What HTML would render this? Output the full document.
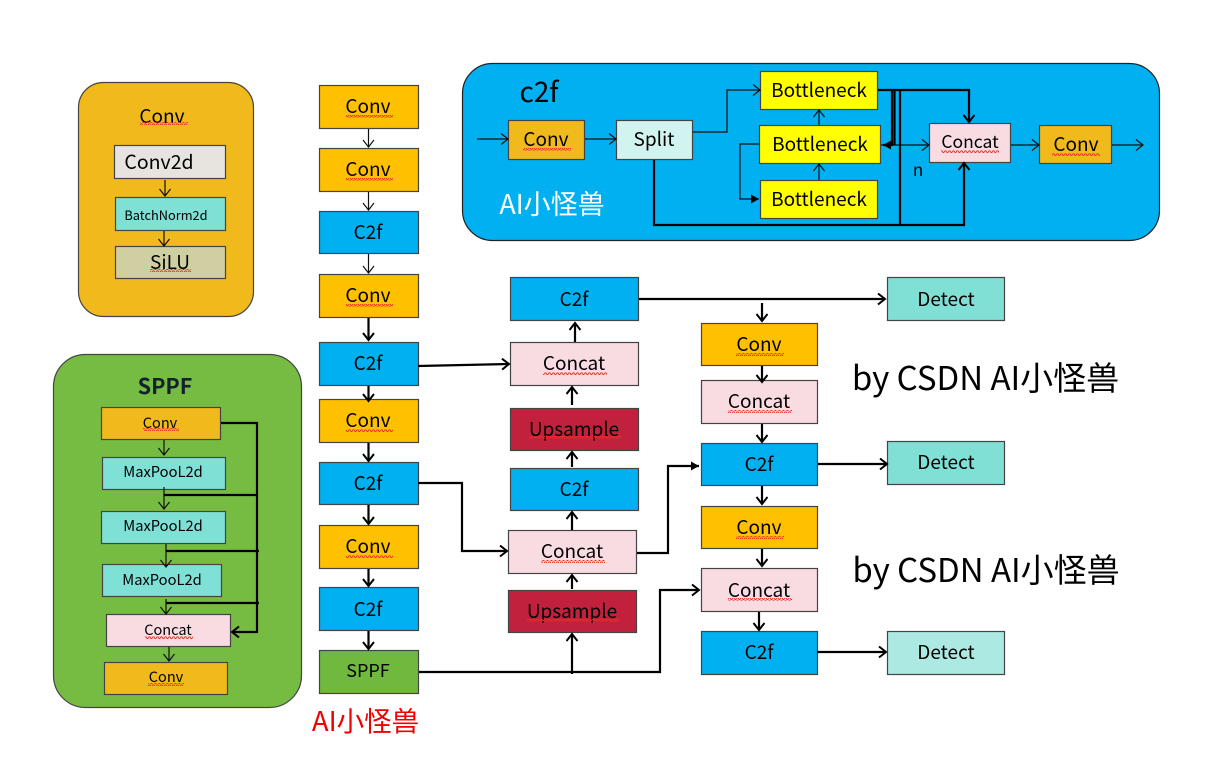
<!DOCTYPE html>
<html><head><meta charset="utf-8"><style>
html,body{margin:0;padding:0;background:#fff;width:1213px;height:766px;overflow:hidden}
svg{display:block}
text{font-family:"Noto Sans CJK SC","Liberation Sans",sans-serif;fill:#000;text-anchor:middle;transform:translateY(1px)}
.b{stroke:#444;stroke-width:1.2}
.t{fill:none;stroke:#111;stroke-width:1.2}
.k{fill:none;stroke:#000;stroke-width:2.2}
.w{fill:url(#z)}
</style></head><body>
<svg width="1213" height="766" viewBox="0 0 1213 766" xmlns="http://www.w3.org/2000/svg">
<defs>
<pattern id="z" width="4" height="3" patternUnits="userSpaceOnUse"><path d="M0 2.5L1 .8L2 .8L3 2.5L4 2.5" fill="none" stroke="#e8302a" stroke-width=".9"/></pattern>
<marker id="o" markerUnits="userSpaceOnUse" markerWidth="14" markerHeight="14" refX="10" refY="6" orient="auto"><path d="M3 .5L10 6L3 11.5" fill="none" stroke="#111" stroke-width="1.2"/></marker>
<marker id="O" markerUnits="userSpaceOnUse" markerWidth="14" markerHeight="14" refX="10" refY="6" orient="auto"><path d="M3 .5L10 6L3 11.5" fill="none" stroke="#000" stroke-width="2"/></marker>
<marker id="f" markerUnits="userSpaceOnUse" markerWidth="14" markerHeight="14" refX="9" refY="6" orient="auto"><path d="M1 1.5L9 6L1 10.5Z" fill="#000"/></marker>
</defs>

<!-- Conv panel -->
<rect class="b" x="78.500" y="82.500" width="175" height="234" rx="25" fill="#f0b91c"/>
<text x="162" y="122" font-size="19">Conv</text><rect class="w" x="140" y="122" width="48" height="3"/>
<rect class="b" x="114.500" y="145.500" width="111" height="33" fill="#e7e3de"/>
<text x="159" y="168" font-size="19.500">Conv2d</text>
<rect class="b" x="115.500" y="197.500" width="110" height="33" fill="#7fe0d6"/>
<text x="166" y="219" font-size="12.800">BatchNorm2d</text>
<rect class="b" x="115.500" y="246.500" width="110" height="32" fill="#d0cfa2"/>
<text x="170" y="268" font-size="19">SiLU</text><rect class="w" x="150" y="269" width="41" height="3"/>
<path class="t" d="M165 180V196" marker-end="url(#o)"/>
<path class="t" d="M164 231V246" marker-end="url(#o)"/>

<!-- SPPF panel -->
<rect class="b" x="53.500" y="354.500" width="248" height="353" rx="32" fill="#76bc43"/>
<text x="165" y="393" font-size="21.500" font-weight="700" style="fill:#14202e">SPPF</text>
<rect class="b" x="101.500" y="407.500" width="119" height="32" fill="#f0b91c"/>
<text x="160" y="427" font-size="14.500">Conv</text><rect class="w" x="143" y="428" width="36" height="3"/>
<rect class="b" x="102.500" y="457.500" width="123" height="32" fill="#7fe0d6"/>
<text x="163" y="476" font-size="14.700">MaxPooL2d</text>
<rect class="b" x="101.500" y="511.500" width="124" height="32" fill="#7fe0d6"/>
<text x="163" y="530" font-size="14.700">MaxPooL2d</text>
<rect class="b" x="102.500" y="564.500" width="119" height="32" fill="#7fe0d6"/>
<text x="162" y="584" font-size="14.700">MaxPooL2d</text>
<rect class="b" x="106.500" y="614.500" width="124" height="32" fill="#f8dce2"/>
<text x="168" y="634" font-size="14.500">Concat</text><rect class="w" x="145" y="636" width="48" height="3"/>
<rect class="b" x="104.500" y="662.500" width="123" height="32" fill="#f0b91c"/>
<text x="166" y="681" font-size="14.500">Conv</text><rect class="w" x="148" y="683" width="36" height="3"/>
<path class="t" d="M164 440V455" marker-end="url(#o)"/>
<path class="t" d="M164 487V509" marker-end="url(#o)"/>
<path class="t" d="M166 544V567" marker-end="url(#o)"/>
<path class="t" d="M166 599V614" marker-end="url(#o)"/>
<path class="t" d="M169 647V661" marker-end="url(#o)"/>
<path class="k" d="M221 423H257V632H232" marker-end="url(#O)"/>
<path class="k" d="M164 495H257M166 551H259M166 603H259"/>

<!-- centre column -->
<g class="b" fill="#ffc000">
<rect x="319.500" y="85.500" width="99" height="43"/>
<rect x="319.500" y="148.500" width="99" height="43"/>
<rect x="319.500" y="274.500" width="99" height="43"/>
<rect x="319.500" y="399.500" width="99" height="43"/>
<rect x="319.500" y="525.500" width="99" height="43"/>
</g>
<g class="b" fill="#00b0f0">
<rect x="319.500" y="211.500" width="99" height="42"/>
<rect x="319.500" y="342.500" width="99" height="43"/>
<rect x="319.500" y="462.500" width="99" height="42"/>
<rect x="319.500" y="587.500" width="99" height="43"/>
</g>
<rect class="b" x="319.500" y="650.500" width="99" height="43" fill="#70b83e"/>
<g font-size="19">
<text x="368" y="112">Conv</text><text x="368" y="175">Conv</text><text x="368" y="238">C2f</text><text x="368" y="301">Conv</text>
<text x="368" y="369">C2f</text><text x="368" y="426">Conv</text><text x="368" y="489">C2f</text><text x="368" y="552">Conv</text><text x="368" y="615">C2f</text>
</g>
<text x="368" y="676" font-size="18">SPPF</text>
<g class="w"><rect x="346" y="115" width="47" height="3"/><rect x="346" y="178" width="47" height="3"/><rect x="346" y="304" width="47" height="3"/><rect x="346" y="429" width="47" height="3"/><rect x="346" y="555" width="47" height="3"/></g>
<path class="t" d="M368.500 129V147" marker-end="url(#o)"/>
<path class="t" d="M368.500 192V210" marker-end="url(#o)"/>
<path class="t" d="M368.500 254V273" marker-end="url(#o)"/>
<path class="k" d="M368.500 318V340" marker-end="url(#O)"/>
<path class="k" d="M368.500 386V401" marker-end="url(#O)"/>
<path class="k" d="M368.500 443V461" marker-end="url(#O)"/>
<path class="k" d="M368.500 505V524" marker-end="url(#O)"/>
<path class="k" d="M368.500 569V586" marker-end="url(#O)"/>
<path class="k" d="M368.500 631V649" marker-end="url(#O)"/>
<text x="365.500" y="730" font-size="27.500" style="fill:#f00000">AI小怪兽</text>

<!-- middle column -->
<rect class="b" x="510.500" y="277.500" width="128" height="43" fill="#00b0f0"/>
<rect class="b" x="510.500" y="342.500" width="128" height="43" fill="#f8dce2"/>
<rect class="b" x="510.500" y="408.500" width="128" height="42" fill="#c1213c"/>
<rect class="b" x="510.500" y="468.500" width="128" height="42" fill="#00b0f0"/>
<rect class="b" x="508.500" y="530.500" width="128" height="43" fill="#f8dce2"/>
<rect class="b" x="508.500" y="590.500" width="128" height="42" fill="#c1213c"/>
<g font-size="19">
<text x="574" y="305">C2f</text><text x="574" y="369">Concat</text><text x="574" y="435">Upsample</text>
<text x="574" y="495">C2f</text><text x="572" y="557">Concat</text><text x="572" y="617">Upsample</text>
</g>
<g class="w"><rect x="543" y="372" width="64" height="3"/><rect x="529" y="436" width="92" height="3"/><rect x="541" y="560" width="64" height="3"/><rect x="527" y="619" width="92" height="3"/></g>
<path class="k" d="M575 342V323" marker-end="url(#O)"/>
<path class="k" d="M572 405V387" marker-end="url(#O)"/>
<path class="k" d="M572 467V452" marker-end="url(#O)"/>
<path class="k" d="M572 530V512" marker-end="url(#O)"/>
<path class="k" d="M572 589V575" marker-end="url(#O)"/>
<path class="k" d="M572 674V634" marker-end="url(#O)"/>
<path class="k" d="M418 366L509 364" marker-end="url(#O)"/>
<path class="k" d="M418 483H462V551H507" marker-end="url(#O)"/>
<path class="k" d="M637 553H668V466H699" marker-end="url(#f)"/>
<path class="k" d="M419 672H660V590H699" marker-end="url(#O)"/>
<path class="k" d="M639 299H885" marker-end="url(#O)"/>

<!-- right column -->
<rect class="b" x="701.500" y="323.500" width="116" height="42" fill="#ffc000"/>
<rect class="b" x="701.500" y="380.500" width="116" height="43" fill="#f8dce2"/>
<rect class="b" x="701.500" y="443.500" width="116" height="42" fill="#00b0f0"/>
<rect class="b" x="701.500" y="506.500" width="116" height="42" fill="#ffc000"/>
<rect class="b" x="701.500" y="568.500" width="116" height="43" fill="#f8dce2"/>
<rect class="b" x="701.500" y="631.500" width="116" height="43" fill="#00b0f0"/>
<g font-size="19">
<text x="759" y="350">Conv</text><text x="759" y="407">Concat</text><text x="759" y="470">C2f</text>
<text x="759" y="533">Conv</text><text x="759" y="596">Concat</text><text x="759" y="658">C2f</text>
</g>
<g class="w"><rect x="736" y="353" width="48" height="3"/><rect x="728" y="410" width="64" height="3"/><rect x="736" y="536" width="48" height="3"/><rect x="728" y="598" width="64" height="3"/></g>
<path class="k" d="M762 303V321" marker-end="url(#O)"/>
<path class="k" d="M762 366V382" marker-end="url(#O)"/>
<path class="k" d="M762 424V442" marker-end="url(#O)"/>
<path class="k" d="M762 486V504" marker-end="url(#O)"/>
<path class="k" d="M762 549V566" marker-end="url(#O)"/>
<path class="k" d="M759 612V630" marker-end="url(#O)"/>

<rect class="b" x="887.500" y="277.500" width="117" height="43" fill="#80e0d6"/>
<rect class="b" x="887.500" y="441.500" width="117" height="43" fill="#80e0d6"/>
<rect class="b" x="887.500" y="631.500" width="117" height="43" fill="#abe9e2"/>
<g font-size="19"><text x="946" y="305">Detect</text><text x="946" y="468">Detect</text><text x="946" y="658">Detect</text></g>
<path class="k" d="M818 464H887" marker-end="url(#O)"/>
<path class="k" d="M817 652H886" marker-end="url(#O)"/>
<text x="985.500" y="389" font-size="33">by CSDN AI小怪兽</text>
<text x="986" y="581" font-size="33">by CSDN AI小怪兽</text>

<!-- c2f panel -->
<rect x="462.500" y="63.500" width="697" height="177" rx="30" fill="#00b0f0" stroke="#222" stroke-width="1.2"/>
<text x="539" y="101" font-size="28">c2f</text>
<text x="552" y="213" font-size="27" style="fill:#fff">AI小怪兽</text>
<rect class="b" x="508.500" y="120.500" width="76" height="39" fill="#f0b91c"/>
<text x="546" y="145" font-size="19">Conv</text><rect class="w" x="523" y="148" width="48" height="3"/>
<rect class="b" x="616.500" y="120.500" width="76" height="39" fill="#d2f4f1"/>
<text x="654" y="145" font-size="19">Split</text>
<rect class="b" x="760.500" y="71.500" width="117" height="38" fill="#ffff00"/>
<text x="819" y="96" font-size="19">Bottleneck</text>
<rect class="b" x="759.500" y="125.500" width="121" height="38" fill="#ffff00"/>
<text x="820" y="150" font-size="19">Bottleneck</text>
<rect class="b" x="760.500" y="180.500" width="117" height="38" fill="#ffff00"/>
<text x="819" y="205" font-size="19">Bottleneck</text>
<rect class="b" x="929.500" y="123.500" width="81" height="39" fill="#f8dce2"/>
<text x="970" y="147" font-size="17.500">Concat</text><rect class="w" x="941" y="150" width="58" height="3"/>
<rect class="b" x="1039.500" y="125.500" width="72" height="38" fill="#f0b91c"/>
<text x="1076" y="150" font-size="19">Conv</text><rect class="w" x="1052" y="153" width="48" height="3"/>
<text x="918" y="175" font-size="17">n</text>
<path class="t" d="M477 139H508" marker-end="url(#o)"/>
<path class="t" d="M585 139H616" marker-end="url(#o)"/>
<path class="t" d="M693 132H727V90H760" marker-end="url(#o)"/>
<path class="t" d="M819 125V110" marker-end="url(#o)"/>
<path class="t" d="M819 180V164" marker-end="url(#o)"/>
<path class="t" d="M759 144H740V199H759" marker-end="url(#f)"/>
<path class="t" d="M881 145H929" marker-end="url(#o)"/>
<path class="t" d="M1011 145H1039" marker-end="url(#o)"/>
<path class="t" d="M1112 145H1143" marker-end="url(#o)"/>
<path class="k" d="M878 90H969V122" marker-end="url(#O)"/>
<path class="k" d="M892 90V145H883" marker-end="url(#f)"/>
<path class="k" d="M894.500 90V145"/>
<path class="k" d="M900 90V225"/>
<path class="k" d="M654 160V225H964V163" marker-end="url(#O)"/>
</svg>
</body></html>
